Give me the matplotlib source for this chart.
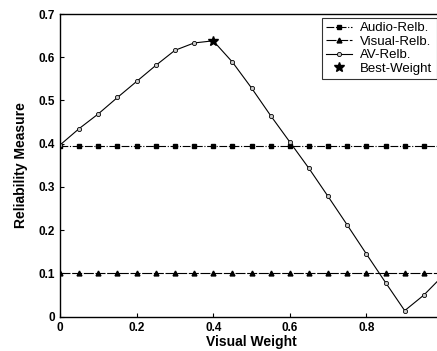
import matplotlib
matplotlib.use("Agg")
import matplotlib.pyplot as plt

plt.rcParams['font.family'] = ['Liberation Sans', 'DejaVu Sans']

# --- data ---
weights = [0.0, 0.05, 0.1, 0.15, 0.2, 0.25, 0.3, 0.35, 0.4, 0.45, 0.5,
           0.55, 0.6, 0.65, 0.7, 0.75, 0.8, 0.85, 0.9, 0.95, 1.0]
audio_relb = [0.395] * 21
visual_relb = [0.1] * 21
av_relb = [0.397, 0.435, 0.469, 0.507, 0.544, 0.581, 0.616, 0.633, 0.638,
           0.589, 0.529, 0.465, 0.404, 0.343, 0.278, 0.212, 0.145, 0.079,
           0.014, 0.05, 0.095]
best_w = [0.4]
best_val = [0.638]
xticks = [0, 0.2, 0.4, 0.6, 0.8]
xtick_labels = ["0", "0.2", "0.4", "0.6", "0.8"]
yticks = [0, 0.1, 0.2, 0.3, 0.4, 0.5, 0.6, 0.7]
ytick_labels = ["0", "0.1", "0.2", "0.3", "0.4", "0.5", "0.6", "0.7"]

fig = plt.figure(figsize=(4.37, 3.51), dpi=100)
ax = fig.add_axes([60/437, 34.3/351, 383/437, 302.7/351])

ax.plot(weights, audio_relb, color="black", lw=0.8, ls=(0, (7, 1.5, 1, 1.5)),
        marker="s", ms=2.2, label="Audio-Relb.")
ax.plot(weights, visual_relb, color="black", lw=0.8, ls=(0, (9, 1.5)),
        marker="^", ms=3.5, label="Visual-Relb.")
ax.plot(weights, av_relb, color="black", lw=0.8, marker="o", ms=3,
        mfc="#cccccc", mec="black", mew=0.6, label="AV-Relb.")
ax.plot(best_w, best_val, ls="none", marker="*", ms=7.5, color="black",
        label="Best-Weight")

ax.set_xlim(0, 1)
ax.set_ylim(0, 0.7)
ax.set_xticks(xticks)
ax.set_xticklabels(xtick_labels)
ax.set_yticks(yticks)
ax.set_yticklabels(ytick_labels)
ax.tick_params(direction="in", labelsize=8.5, length=3, width=0.8)
for lab in ax.get_xticklabels() + ax.get_yticklabels():
    lab.set_fontweight("bold")
for sp in ax.spines.values():
    sp.set_linewidth(1.0)

ax.set_xlabel("Visual Weight", fontsize=10, fontweight="bold", labelpad=1)
ax.set_ylabel("Reliability Measure", fontsize=10, fontweight="bold", labelpad=8)

leg = ax.legend(loc="upper right", bbox_to_anchor=(0.99, 0.995), fontsize=9.5,
                frameon=True, fancybox=False, edgecolor="black",
                borderpad=0.3, labelspacing=0.1, handlelength=2.0,
                handletextpad=0.6, borderaxespad=0.2)
leg.get_frame().set_linewidth(0.8)

fig.savefig("out.png", dpi=100, facecolor="white")
